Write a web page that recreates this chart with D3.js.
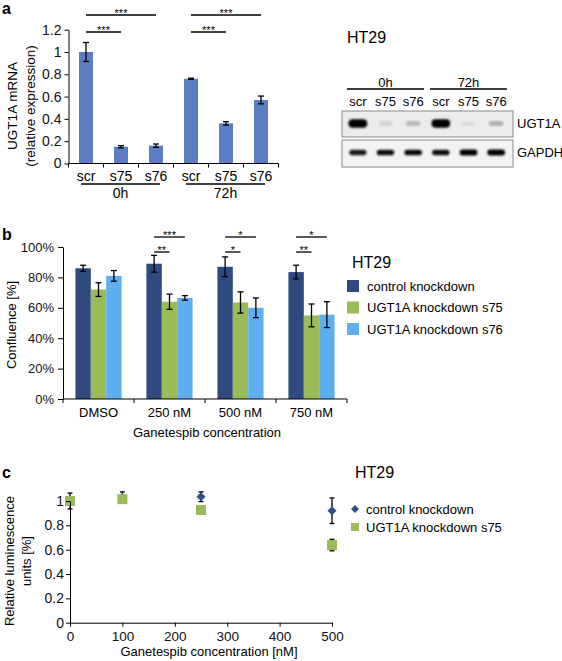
<!DOCTYPE html>
<html><head><meta charset="utf-8">
<script src="https://cdn.jsdelivr.net/npm/d3@7"></script>
<style>
body{margin:0;background:#fff}
svg{display:block;font-family:"Liberation Sans",Arial,sans-serif}
</style>
</head><body>
<svg id="fig" width="562" height="661"></svg>
<script>
// ---------- Panel a: qPCR ----------
const aCategories = ["scr","s75","s76","scr","s75","s76"];
const aGroups = ["0h","72h"];
const aValues = [1.00,0.15,0.16,0.76,0.36,0.57];
const aErrors = [0.085,0.01,0.015,0.005,0.015,0.035];
const aTicks = [0,0.2,0.4,0.6,0.8,1,1.2];
const aSig = [[0,1,"***",1],[0,2,"***",2],[3,4,"***",1],[3,5,"***",2]];

// ---------- Western blot ----------
const blotTitle = "HT29";
const blotRows = ["UGT1A","GAPDH"];
const ugt1aBand = [1.0,0.10,0.20,0.95,0.07,0.24];
const gapdhBand = [0.85,0.9,0.92,0.9,0.95,0.97];

// ---------- Panel b: confluence ----------
const bGroups = ["DMSO","250 nM","500 nM","750 nM"];
const bSeries = ["control knockdown","UGT1A knockdown s75","UGT1A knockdown s76"];
const bControl = [86,89,87,83.5];
const bControlErr = [2,5.5,6.5,4.5];
const bS75 = [72,64,63.5,55];
const bS75Err = [4.5,5,7,7.5];
const bS76 = [81,66.5,60,55.5];
const bS76Err = [3.5,1.5,6.5,8.5];
const bTicks = [0,20,40,60,80,100];
const bSig = [[1,1,"**",1],[1,2,"***",2],[2,1,"*",1],[2,2,"*",2],[3,1,"**",1],[3,2,"*",2]];

// ---------- Panel c: luminescence ----------
const cSeries = ["control knockdown","UGT1A knockdown s75"];
const cDoses = [0,100,250,500];
const cControl = [1.00,1.03,1.035,0.92];
const cControlErr = [0.065,0.045,0.04,0.105];
const cS75 = [1.00,1.015,0.926,0.638];
const cS75Err = [0.01,0.01,0.01,0.047];
const cXTicks = [0,100,200,300,400,500];
const cYTicks = [0,0.2,0.4,0.6,0.8,1];

const svg = d3.select("#fig");
const BLACK = "#000";
const colA = "#5b7ec2";
const colB = ["#2e4a7f","#9bbb59","#5eaef0"];
const colC = ["#2f4e8c","#9bbb59"];

function styleAxis(g, fs){
  g.selectAll("path,line").attr("stroke",BLACK).attr("stroke-width",1);
  g.selectAll("text").attr("font-size",fs).attr("fill","#111").attr("font-family","Liberation Sans, Arial, sans-serif");
}
function errBar(g, x, y0, y1, cap, col){
  g.append("line").attr("x1",x).attr("x2",x).attr("y1",y0).attr("y2",y1).attr("stroke",col||BLACK).attr("stroke-width",1.3);
  g.append("line").attr("x1",x-cap).attr("x2",x+cap).attr("y1",y0).attr("y2",y0).attr("stroke",col||BLACK).attr("stroke-width",1.3);
  g.append("line").attr("x1",x-cap).attr("x2",x+cap).attr("y1",y1).attr("y2",y1).attr("stroke",col||BLACK).attr("stroke-width",1.3);
}
function panelLabel(t,x,y){
  svg.append("text").attr("x",x).attr("y",y).attr("font-size",16).attr("font-weight","bold").text(t);
}
function diamondPath(s){ return `M0,${-s}L${s},0L0,${s}L${-s},0Z`; }

// ================= Panel a =================
panelLabel("a",2,14);
const ax = d3.scaleBand().domain(d3.range(aCategories.length)).range([68.5,278.5]).paddingInner(0.6).paddingOuter(0.3);
const ay = d3.scaleLinear().domain([0,1.2]).range([163.5,29.7]);
const gA = svg.append("g");
gA.selectAll("rect.bar").data(aValues).join("rect").attr("class","bar")
  .attr("x",(d,i)=>ax(i)).attr("width",ax.bandwidth())
  .attr("y",d=>ay(d)).attr("height",d=>ay(0)-ay(d)).attr("fill",colA);
aValues.forEach((v,i)=>errBar(gA, ax(i)+ax.bandwidth()/2, ay(v+aErrors[i]), ay(v-aErrors[i]), 3));
const aYAxis = svg.append("g").attr("transform","translate(68.5,0)")
  .call(d3.axisLeft(ay).tickValues(aTicks).tickFormat(d3.format("~g")).tickSize(4).tickSizeOuter(0).tickPadding(3));
styleAxis(aYAxis,14);
const aStep = ax.step();
const aBounds = d3.range(aCategories.length+1).map(i=> i<aCategories.length ? ax(i)+ax.bandwidth()/2-aStep/2 : ax(i-1)+ax.bandwidth()/2+aStep/2);
gA.append("line").attr("x1",aBounds[0]).attr("x2",aBounds[aBounds.length-1]).attr("y1",ay(0)).attr("y2",ay(0)).attr("stroke",BLACK);
gA.selectAll("line.xt").data(aBounds).join("line").attr("class","xt").attr("x1",d=>d).attr("x2",d=>d).attr("y1",ay(0)).attr("y2",ay(0)+4).attr("stroke",BLACK);
gA.selectAll("text.xl").data(aCategories).join("text").attr("class","xl")
  .attr("x",(d,i)=>ax(i)+ax.bandwidth()/2).attr("y",181).attr("text-anchor","middle").attr("font-size",14).text(d=>d);
aGroups.forEach((gname,k)=>{
  const i0=k*3, i1=k*3+2;
  const xa=ax(i0)+2, xb=ax(i1)+ax.bandwidth()-3;
  gA.append("line").attr("x1",xa).attr("x2",xb).attr("y1",184).attr("y2",184).attr("stroke",BLACK).attr("stroke-width",1.5);
  gA.append("text").attr("x",(xa+xb)/2).attr("y",198).attr("text-anchor","middle").attr("font-size",14).text(gname);
});
const aLevelY = {1:32, 2:15};
aSig.forEach(([i,j,lab,lev])=>{
  const x1=ax(i)+ax.bandwidth()/2, x2=ax(j)+ax.bandwidth()/2, y=aLevelY[lev];
  gA.append("line").attr("x1",x1).attr("x2",x2).attr("y1",y).attr("y2",y).attr("stroke",BLACK).attr("stroke-width",1.3);
  gA.append("text").attr("x",(x1+x2)/2).attr("y",y+1.5).attr("text-anchor","middle").attr("font-size",11).text(lab);
});
const aTitle = svg.append("g").attr("transform","translate(0,106) rotate(-90)");
aTitle.append("text").attr("x",0).attr("y",17).attr("text-anchor","middle").attr("font-size",13.5).text("UGT1A mRNA");
aTitle.append("text").attr("x",0).attr("y",35).attr("text-anchor","middle").attr("font-size",13.5).text("(relative expression)");

// ================= Western blot =================
const defs = svg.append("defs");
defs.append("filter").attr("id","blur").attr("x","-50%").attr("y","-100%").attr("width","200%").attr("height","300%")
  .append("feGaussianBlur").attr("stdDeviation",1.1);
const gW = svg.append("g");
gW.append("text").attr("x",347).attr("y",43).attr("font-size",16).text(blotTitle);
const lx = d3.scaleBand().domain(d3.range(aCategories.length)).range([344,510]);
aGroups.forEach((gname,k)=>{
  const xa=lx(k*3)+3, xb=lx(k*3+2)+lx.bandwidth()-3;
  gW.append("line").attr("x1",xa).attr("x2",xb).attr("y1",89).attr("y2",89).attr("stroke",BLACK).attr("stroke-width",1.5);
  gW.append("text").attr("x",(xa+xb)/2).attr("y",87).attr("text-anchor","middle").attr("font-size",13).text(gname);
});
gW.selectAll("text.ln").data(aCategories).join("text").attr("class","ln")
  .attr("x",(d,i)=>lx(i)+lx.bandwidth()/2).attr("y",106).attr("text-anchor","middle").attr("font-size",13).text(d=>d);
const rowBox = [{y:111,h:26,fill:"#ececec",bandY:123.5,data:ugt1aBand,w:19,h0:8.5},
                {y:140,h:27,fill:"#f3f3f3",bandY:152.5,data:gapdhBand,w:18,h0:6}];
rowBox.forEach((r,k)=>{
  gW.append("rect").attr("x",342).attr("y",r.y).attr("width",171).attr("height",r.h).attr("fill",r.fill).attr("stroke","#8a8a8a").attr("stroke-width",1);
  r.data.forEach((v,i)=>{
    const w = r.w*(0.7+0.3*v), h = r.h0*(0.45+0.55*v);
    gW.append("rect").attr("x",lx(i)+lx.bandwidth()/2-w/2).attr("y",r.bandY-h/2)
      .attr("width",w).attr("height",h).attr("rx",Math.min(h/2,4)).attr("ry",h/2)
      .attr("fill","#000").attr("opacity",Math.min(1,v*1.05)).attr("filter","url(#blur)");
  });
  gW.append("text").attr("x",517).attr("y",r.bandY+4.5).attr("font-size",13).text(blotRows[k]);
});

// ================= Panel b =================
panelLabel("b",2,240);
const bx0 = d3.scaleBand().domain(bGroups).range([63,347]).paddingInner(0.35).paddingOuter(0.175);
const bx1 = d3.scaleBand().domain(bSeries).range([0,bx0.bandwidth()]);
const by = d3.scaleLinear().domain([0,100]).range([399,247]);
const bVals = [bControl,bS75,bS76], bErrs=[bControlErr,bS75Err,bS76Err];
const gB = svg.append("g");
bSeries.forEach((s,si)=>{
  gB.selectAll("rect.s"+si).data(bVals[si]).join("rect").attr("class","s"+si)
    .attr("x",(d,gi)=>bx0(bGroups[gi])+bx1(s)).attr("width",bx1.bandwidth())
    .attr("y",d=>by(d)).attr("height",d=>by(0)-by(d)).attr("fill",colB[si]);
});
bSeries.forEach((s,si)=>{
  bVals[si].forEach((v,gi)=>{
    const cx=bx0(bGroups[gi])+bx1(s)+bx1.bandwidth()/2;
    errBar(gB,cx,by(v+bErrs[si][gi]),by(v-bErrs[si][gi]),3);
  });
});
const bYAxis = svg.append("g").attr("transform","translate(63,0)")
  .call(d3.axisLeft(by).tickValues(bTicks).tickFormat(d=>d+"%").tickSize(5).tickSizeOuter(0).tickPadding(4));
styleAxis(bYAxis,13);
const bStep = bx0.step();
const bBounds = d3.range(bGroups.length+1).map(i=>63+i*bStep);
gB.append("line").attr("x1",bBounds[0]).attr("x2",bBounds[bBounds.length-1]).attr("y1",by(0)).attr("y2",by(0)).attr("stroke",BLACK);
gB.selectAll("line.xt").data(bBounds).join("line").attr("class","xt").attr("x1",d=>d).attr("x2",d=>d).attr("y1",by(0)).attr("y2",by(0)+4).attr("stroke",BLACK);
gB.selectAll("text.xl").data(bGroups).join("text").attr("class","xl")
  .attr("x",d=>bx0(d)+bx0.bandwidth()/2).attr("y",417).attr("text-anchor","middle").attr("font-size",13).text(d=>d);
svg.append("text").attr("x",207).attr("y",437).attr("text-anchor","middle").attr("font-size",13).text("Ganetespib concentration");
svg.append("text").attr("transform","translate(16,325) rotate(-90)").attr("text-anchor","middle").attr("font-size",13).text("Confluence [%]");
const bLevelY = {1:252, 2:237};
bSig.forEach(([gi,sj,lab,lev])=>{
  const g=bGroups[gi];
  const x1=bx0(g)+bx1(bSeries[0])+bx1.bandwidth()/2, x2=bx0(g)+bx1(bSeries[sj])+bx1.bandwidth()/2, y=bLevelY[lev];
  gB.append("line").attr("x1",x1).attr("x2",x2).attr("y1",y).attr("y2",y).attr("stroke",BLACK).attr("stroke-width",1.3);
  gB.append("text").attr("x",(x1+x2)/2).attr("y",y+1.5).attr("text-anchor","middle").attr("font-size",11).text(lab);
});
svg.append("text").attr("x",352).attr("y",268).attr("font-size",16).text("HT29");
bSeries.forEach((s,si)=>{
  const yy = 286 + si*21.5;
  svg.append("rect").attr("x",347).attr("y",yy-6).attr("width",12).attr("height",12).attr("fill",colB[si]);
  svg.append("text").attr("x",367).attr("y",yy+4.5).attr("font-size",13).text(s);
});

// ================= Panel c =================
panelLabel("c",2,478);
const cx = d3.scaleLinear().domain([0,500]).range([70,332]);
const cy = d3.scaleLinear().domain([0,1]).range([622.7,501]);
const gC = svg.append("g");
const cXAxis = svg.append("g").attr("transform","translate(0,622.7)")
  .call(d3.axisBottom(cx).tickValues(cXTicks).tickFormat(d3.format("d")).tickSize(4).tickSizeOuter(0).tickPadding(5));
styleAxis(cXAxis,13.5);
const cYAxis = svg.append("g").attr("transform","translate(70,0)")
  .call(d3.axisLeft(cy).tickValues(cYTicks).tickFormat(d3.format("~g")).tickSize(4).tickSizeOuter(0).tickPadding(2));
styleAxis(cYAxis,14);
cDoses.forEach((d,i)=>{
  errBar(gC,cx(d),cy(cControl[i]+cControlErr[i]),cy(cControl[i]-cControlErr[i]),2.5);
  gC.append("path").attr("d",diamondPath(4.5)).attr("transform",`translate(${cx(d)},${cy(cControl[i])})`).attr("fill",colC[0]);
});
cDoses.forEach((d,i)=>{
  errBar(gC,cx(d),cy(cS75[i]+cS75Err[i]),cy(cS75[i]-cS75Err[i]),2.5);
  gC.append("rect").attr("x",cx(d)-5).attr("y",cy(cS75[i])-5).attr("width",10).attr("height",10).attr("fill",colC[1]);
});
svg.append("text").attr("x",209).attr("y",656).attr("text-anchor","middle").attr("font-size",13).text("Ganetespib concentration [nM]");
const cTitle = svg.append("g").attr("transform","translate(0,561) rotate(-90)");
cTitle.append("text").attr("x",0).attr("y",14).attr("text-anchor","middle").attr("font-size",13).text("Relative luminescence");
cTitle.append("text").attr("x",0).attr("y",31).attr("text-anchor","middle").attr("font-size",13).text("units [%]");
svg.append("text").attr("x",355).attr("y",478).attr("font-size",16).text("HT29");
svg.append("path").attr("d",diamondPath(4)).attr("transform","translate(355,509)").attr("fill",colC[0]);
svg.append("text").attr("x",366).attr("y",513.5).attr("font-size",13).text(cSeries[0]);
svg.append("rect").attr("x",351).attr("y",523).attr("width",8).attr("height",8).attr("fill",colC[1]);
svg.append("text").attr("x",366).attr("y",531.5).attr("font-size",13).text(cSeries[1]);
</script>
</body></html>
